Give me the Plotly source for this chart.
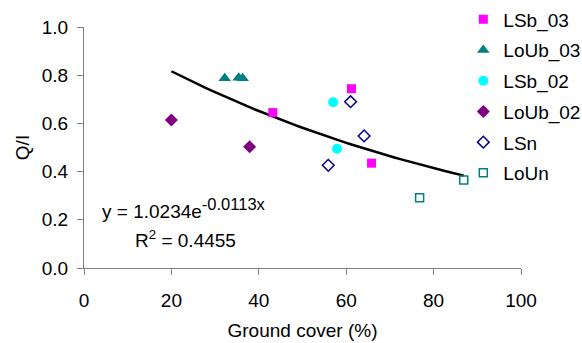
import numpy as np
import plotly.graph_objects as go

# ---- data ----
lsb03_x = [43.2, 61.2, 65.8]
lsb03_y = [0.645, 0.744, 0.435]

loub03_x = [32.2, 35.4, 36.3]
loub03_y = [0.787, 0.789, 0.787]

lsb02_x = [57.0, 57.9]
lsb02_y = [0.688, 0.495]

loub02_x = [20.0, 37.9]
loub02_y = [0.614, 0.503]

lsn_x = [55.9, 61.0, 64.1]
lsn_y = [0.426, 0.690, 0.548]

loun_x = [76.8, 86.9]
loun_y = [0.292, 0.365]

# exponential trend line coefficients (shown on the chart)
trend_a = 1.0234
trend_b = -0.0113
trend_r2 = 0.4455

x_ticks = [0, 20, 40, 60, 80, 100]
y_ticks = [0.0, 0.2, 0.4, 0.6, 0.8, 1.0]

FONT = "Liberation Sans, Arial, sans-serif"
FS = 19

all_x = lsb03_x + loub03_x + lsb02_x + loub02_x + lsn_x + loun_x
tx = np.linspace(min(all_x), max(all_x), 60)
ty = trend_a * np.exp(trend_b * tx)

fig = go.Figure()

fig.add_trace(go.Scatter(x=tx, y=ty, mode="lines", line=dict(color="black", width=2.5),
                         showlegend=False, hoverinfo="skip"))

series = [
    ("LSb_03", lsb03_x, lsb03_y, dict(symbol="square", color="#FF00FF", size=9)),
    ("LoUb_03", loub03_x, loub03_y, dict(symbol="triangle-up", color="#008080", size=11)),
    ("LSb_02", lsb02_x, lsb02_y, dict(symbol="circle", color="#00FFFF", size=10)),
    ("LoUb_02", loub02_x, loub02_y, dict(symbol="diamond", color="#800080", size=10)),
    ("LSn", lsn_x, lsn_y, dict(symbol="diamond-open", color="#000080", size=9, line=dict(width=1.5))),
    ("LoUn", loun_x, loun_y, dict(symbol="square-open", color="#008080", size=8, line=dict(width=1.5))),
]
for i, (name, xs, ys, mk) in enumerate(series):
    fig.add_trace(go.Scatter(x=xs, y=ys, mode="markers", name=name, marker=mk,
                             legendgroup=f"g{i}"))

fig.add_annotation(x=0.2286, y=0.245, xref="paper", yref="paper",
                   text=(f"y = {trend_a:.4f}e<sup><span style='font-size:16.5px'>"
                         f"{trend_b:.4f}x</span></sup>"),
                   showarrow=False, font=dict(family=FONT, size=FS, color="black"),
                   xanchor="center", yanchor="middle")
fig.add_annotation(x=0.233, y=0.12, xref="paper", yref="paper",
                   text=f"R<sup>2</sup> = {trend_r2:.4f}",
                   showarrow=False, font=dict(family=FONT, size=FS, color="black"),
                   xanchor="center", yanchor="middle")

fig.update_layout(
    width=582, height=343,
    margin=dict(l=83.5, r=61, t=27, b=75, autoexpand=False),
    paper_bgcolor="white", plot_bgcolor="white",
    font=dict(family=FONT, size=FS, color="black"),
    showlegend=True,
    legend=dict(x=0.868, y=1.11, xref="paper", yref="paper",
                xanchor="left", yanchor="top", maxheight=330,
                bgcolor="rgba(0,0,0,0)", font=dict(family=FONT, size=FS),
                traceorder="grouped", tracegroupgap=3, itemwidth=30),
    xaxis=dict(range=[0, 100], tickvals=x_ticks, showgrid=False, zeroline=False,
               showline=True, linecolor="#808080", linewidth=1,
               ticks="outside", ticklen=6, tickcolor="#808080", ticklabelstandoff=9,
               title=dict(text="Ground cover (%)", font=dict(size=FS), standoff=13)),
    yaxis=dict(range=[0, 1], tickvals=y_ticks, tickformat=".1f", showgrid=False, zeroline=False,
               showline=True, linecolor="#808080", linewidth=1,
               ticks="outside", ticklen=6, tickcolor="#808080", ticklabelstandoff=5,
               title=dict(text="Q/I", font=dict(size=FS), standoff=7)),
)

fig.write_html("out.html", config={"displayModeBar": False},
               post_script="document.body.style.margin='0px';")
